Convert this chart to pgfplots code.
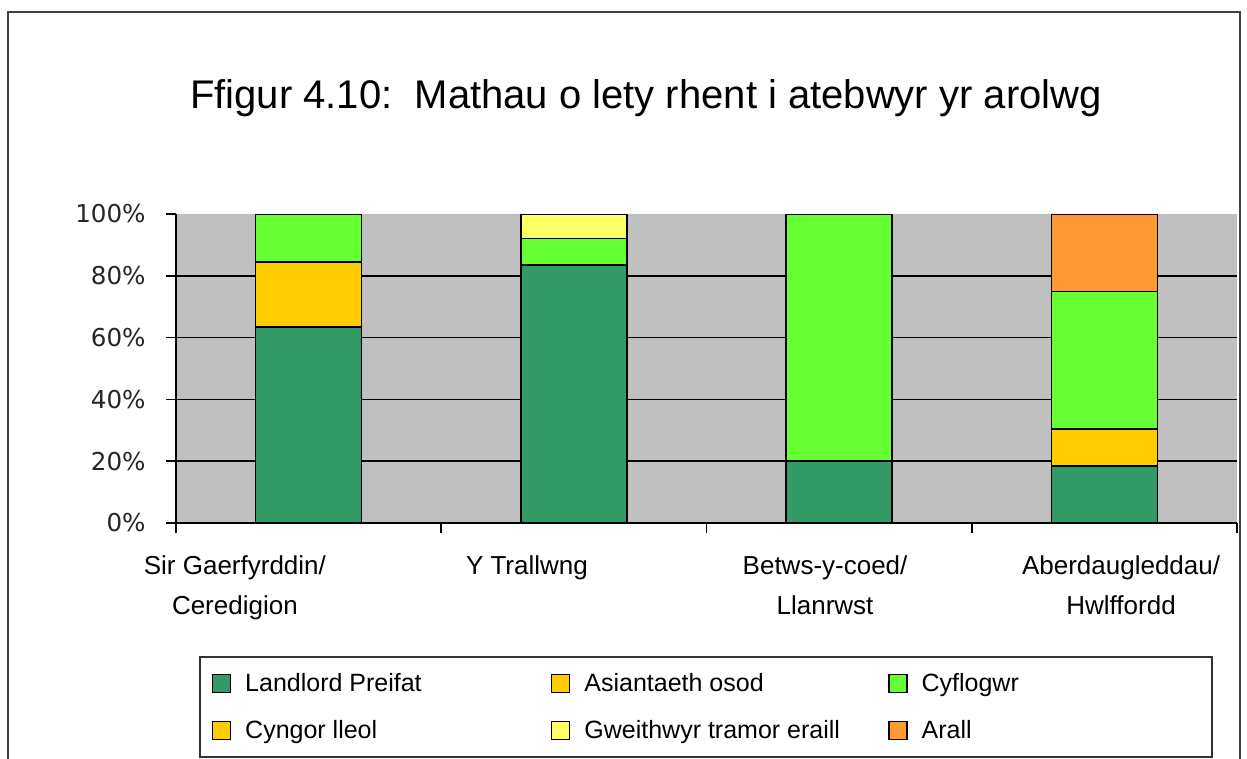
\documentclass[border=0pt]{standalone}
\usepackage{fontspec}
\setmainfont{Liberation Sans}
\newfontfamily\dejavu{DejaVu Sans}
\usepackage{pgfplots}
\pgfplotsset{compat=1.18}
\definecolor{cLandlord}{HTML}{339966}
\definecolor{cAsiant}{HTML}{FFCC00}
\definecolor{cCyflog}{HTML}{66FF33}
\definecolor{cCyngor}{HTML}{FFCC00}
\definecolor{cGweith}{HTML}{FFFF66}
\definecolor{cArall}{HTML}{FF9933}
\definecolor{bgGray}{HTML}{C0C0C0}
\pgfplotsset{sqlegend/.style={legend image code/.code={\draw[##1,draw=black,line width=0.6pt] (0pt,-4.5pt) rectangle (9pt,4.5pt);}}}
\begin{document}
\begin{tikzpicture}
\begin{scope}[x=0.5pt,y=-0.5pt]
\useasboundingbox (0,0) rectangle (1247,751);
\draw[line width=1pt, black!75] (8,12) rectangle (1240,800);
\node[anchor=base, font=\fontsize{20}{24}\selectfont, inner sep=0pt] at (646,108) {Ffigur 4.10:\ \ Mathau o lety rhent i atebwyr yr arolwg};
\coordinate (axll) at (176,523);
\end{scope}
\begin{axis}[
  at={(axll)}, anchor=south west,
  scale only axis, width=530.5pt, height=154.5pt,
  ybar stacked, bar width=53pt,
  xmin=-0.5, xmax=3.5, ymin=0, ymax=100,
  axis x line=bottom, axis y line=left,
  axis line style={-, line width=0.8pt, black},
  axis background/.style={fill=bgGray},
  tick align=outside, major tick length=5pt,
  tick style={black, line width=0.8pt},
  ytick={0,20,40,60,80,100},
  yticklabels={0\%,20\%,40\%,60\%,80\%,100\%},
  yticklabel style={font=\dejavu\fontsize{12.3}{14}\selectfont, inner sep=0pt, xshift=-10pt, text=black!85},
  extra y ticks={20,40,60,80}, extra y tick labels={},
  extra y tick style={grid=major, major tick length=0pt},
  grid style={black, line width=0.8pt},
  xtick={-0.5,0.5,1.5,2.5,3.5}, xticklabels={},
  extra x ticks={-0.278,0.823,1.947,3.063},
  extra x tick labels={{Sir Gaerfyrddin/\\Ceredigion},{Y Trallwng},{Betws-y-coed/\\Llanrwst},{Aberdaugleddau/\\Hwlffordd}},
  extra x tick style={major tick length=0pt, grid=none, xticklabel style={align=center, anchor=north, font=\fontsize{13}{20}\selectfont, inner sep=0pt, yshift=-16pt}},
  legend columns=3,
  legend style={at={(0.0217,-0.4304)}, anchor=north west, draw=black!80, line width=1pt,
    font=\fontsize{12.5}{15}\selectfont, inner xsep=6pt, inner ysep=8pt, row sep=13pt, column sep=0pt,
    cells={anchor=west}, nodes={inner sep=0pt}},
]
\addplot[sqlegend, fill=cLandlord, draw=black, line width=0.75pt] coordinates {(0,63.5) (1,83.5) (2,20) (3,18.5)};
\addlegendentry{\hspace{7pt}\makebox[153pt][l]{Landlord Preifat}}
\addplot[sqlegend, fill=cAsiant, draw=black, line width=0.75pt] coordinates {(0,20.9) (1,0) (2,0) (3,12)};
\addlegendentry{\hspace{7pt}\makebox[152pt][l]{Asiantaeth osod}}
\addplot[sqlegend, fill=cCyflog, draw=black, line width=0.75pt] coordinates {(0,15.6) (1,8.5) (2,80) (3,44.5)};
\addlegendentry{\hspace{7pt}\makebox[139pt][l]{Cyflogwr}}
\addplot[sqlegend, fill=cCyngor, draw=black, line width=0.75pt] coordinates {(0,0) (1,0) (2,0) (3,0)};
\addlegendentry{\hspace{7pt}\makebox[153pt][l]{Cyngor lleol}}
\addplot[sqlegend, fill=cGweith, draw=black, line width=0.75pt] coordinates {(0,0) (1,8) (2,0) (3,0)};
\addlegendentry{\hspace{7pt}\makebox[152pt][l]{Gweithwyr tramor eraill}}
\addplot[sqlegend, fill=cArall, draw=black, line width=0.75pt] coordinates {(0,0) (1,0) (2,0) (3,25)};
\addlegendentry{\hspace{7pt}\makebox[139pt][l]{Arall}}
\end{axis}
\end{tikzpicture}
\end{document}
